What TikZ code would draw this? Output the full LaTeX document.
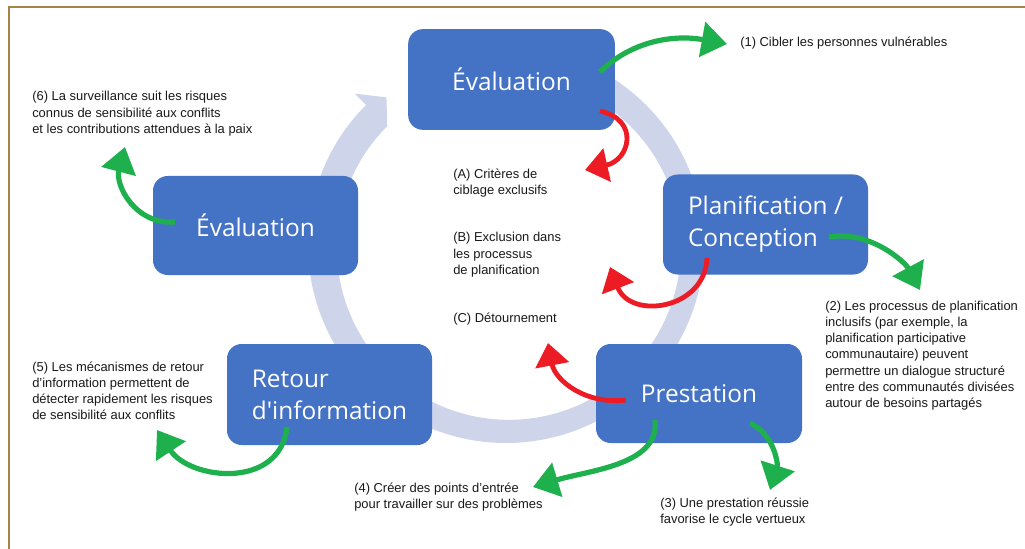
\documentclass[tikz,border=0pt]{standalone}
\usepackage{fontspec}
\setmainfont{Liberation Sans}
\newfontfamily\boxfont{Open Sans}
\usetikzlibrary{arrows.meta,calc}
\definecolor{boxblue}{RGB}{68,114,196}
\definecolor{ringc}{RGB}{206,213,234}
\definecolor{garrow}{RGB}{30,176,76}
\definecolor{rarrow}{RGB}{237,28,36}
\definecolor{framec}{RGB}{166,132,70}
\definecolor{txt}{RGB}{25,25,25}
\tikzset{
  bbox/.style={draw=none, fill=boxblue, rounded corners=11pt, text=white,
    font=\boxfont\fontsize{18.3}{24}\selectfont, align=left, inner sep=0pt},
  lbl/.style={anchor=base west, inner sep=0pt, align=left, text=txt,
    font=\fontsize{9.7}{12.2}\selectfont},
  garr/.style={draw=garrow, line width=3.9pt, -{Triangle[length=19pt,width=26pt]}},
  rarr/.style={draw=rarrow, line width=3.6pt, -{Triangle[length=17pt,width=25pt]}},
}
\begin{document}
\begin{tikzpicture}[x=0.75pt,y=-0.75pt]
\useasboundingbox (0,0) rectangle (1025,549);
\fill[white] (0,0) rectangle (1025,549);
\draw[framec, line width=1.4pt] (9,549) -- (9,7) -- (1025,7);

% ring
\coordinate (O) at (506,245);
\fill[ringc] ($(O)+(-95:198)$) arc[start angle=-95, end angle=225, radius=198]
  -- ($(O)+(225:214)$) -- ($(O)+(231:190)$) -- ($(O)+(225:168)$)
  arc[start angle=225, end angle=-95, radius=172] -- cycle;

% boxes
\node[bbox, minimum width=155pt, minimum height=75.5pt] (eval1) at (511.5,79.5) {\'Evaluation};
\node[bbox, minimum width=153.75pt, minimum height=74.25pt] (eval2) at (255.5,225.5) {\'Evaluation};
\node[bbox, minimum width=153.75pt, minimum height=75pt] (plan) at (765.5,224.5) {Planification /\\Conception};
\node[bbox, minimum width=154.5pt, minimum height=74.25pt] (prest) at (699,393.5) {Prestation};
\node[bbox, minimum width=153.75pt, minimum height=75.75pt] (ret) at (329.5,394.5) {Retour\\d'information};

% labels (anchored at the baseline of their last line)
\node[lbl] (t1) at (740,47) {(1) Cibler les personnes vuln\'erables};
\node[lbl] (t6) at (32,133.5) {(6) La surveillance suit les risques\\connus de sensibilit\'e aux conflits\\et les contributions attendues \`a la paix};
\node[lbl] (tA) at (453,194.3) {(A) Crit\`eres de\\ciblage exclusifs};
\node[lbl] (tB) at (453,274.5) {(B) Exclusion dans\\les processus\\de planification};
\node[lbl] (tC) at (453,322) {(C) D\'etournement};
\node[lbl] (t2) at (825,407.6) {(2) Les processus de planification\\inclusifs (par exemple, la\\planification participative\\communautaire) peuvent\\permettre un dialogue structur\'e\\entre des communaut\'es divis\'ees\\autour de besoins partag\'es};
\node[lbl] (t5) at (32,419.8) {(5) Les m\'ecanismes de retour\\d'information permettent de\\d\'etecter rapidement les risques\\de sensibilit\'e aux conflits};
\node[lbl] (t4) at (354,508.3) {(4) Cr\'eer des points d\textquoteright entr\'ee\\pour travailler sur des probl\`emes};
\node[lbl] (t3) at (660,523.3) {(3) Une prestation r\'eussie\\favorise le cycle vertueux};

% arrow anchor points
\coordinate (g1s) at (600,72);   \coordinate (g1e) at (727,44);
\coordinate (g2s) at (829,237);  \coordinate (g2e) at (920,290);
\coordinate (g3s) at (750,423);  \coordinate (g3e) at (770,490);
\coordinate (g4s) at (655,420);  \coordinate (g4e) at (533,487);
\coordinate (g5s) at (287,427);  \coordinate (g5e) at (157,430);
\coordinate (g6s) at (175,222);  \coordinate (g6e) at (125,147);
\coordinate (rAs) at (600,111);  \coordinate (rAe) at (585,170);
\coordinate (rBs) at (707,258);  \coordinate (rBe) at (610,267);
\coordinate (rCs) at (626,400);  \coordinate (rCe) at (548,343);

% green arrows
\draw[garr] (g1s) .. controls (630,42) and (672,34) .. (g1e);
\draw[garr] (g2s) .. controls (870,230) and (905,262) .. (g2e);
\draw[garr] (g3s) .. controls (775,435) and (778,465) .. (g3e);
\draw[garr] (g4s) .. controls (660,465) and (590,470) .. (g4e);
\draw[garr] (g5s) .. controls (280,490) and (190,480) .. (g5e);
\draw[garr] (g6s) .. controls (135,225) and (115,185) .. (g6e);

% red arrows
\draw[rarr] (rAs) .. controls (640,120) and (630,160) .. (rAe);
\draw[rarr] (rBs) .. controls (705,310) and (630,320) .. (rBe);
\draw[rarr] (rCs) .. controls (585,405) and (555,380) .. (rCe);
\end{tikzpicture}
\end{document}
